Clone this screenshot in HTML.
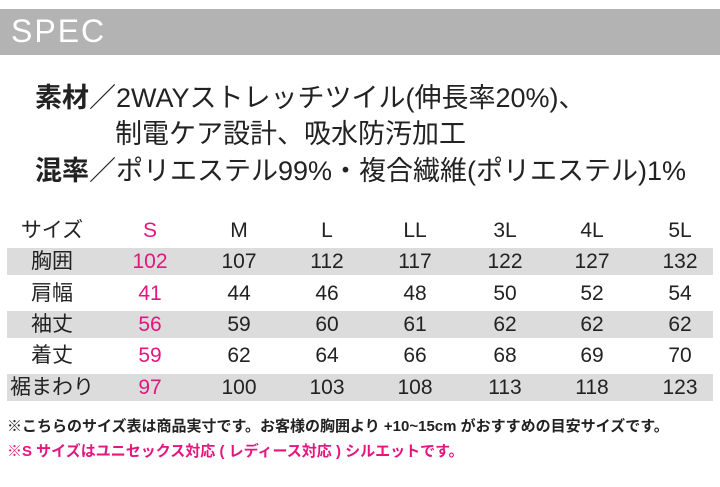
<!DOCTYPE html><html><head><meta charset="utf-8"><style>
body{margin:0;width:720px;height:487px;background:#fff;position:relative;font-family:"Liberation Sans","Noto Sans CJK JP",sans-serif;color:#222;overflow:hidden}
.bar{position:absolute;left:0;top:9px;width:720px;height:46px;background:#b3b3b3}
.bar span{position:absolute;left:11px;top:4px;color:#fff;font-size:32px;letter-spacing:2px}
.l{position:absolute;font-size:27px;white-space:nowrap;line-height:1}
.l b{font-weight:bold}
.row{position:absolute;left:7px;width:706px;height:27px}
.g{background:#dcdcdc}
.c{position:absolute;width:90px;text-align:center;font-size:21px;line-height:27px;transform:translateX(-50%)}
.p{color:#e4157f}
.n{position:absolute;left:7px;font-size:15px;font-weight:bold;white-space:nowrap}
</style></head><body>
<div class="bar"><span>SPEC</span></div>
<div class="l" style="left:35px;top:85px"><b>素材</b>／2WAYストレッチツイル(伸長率20%)、</div>
<div class="l" style="left:115px;top:121px">制電ケア設計、吸水防汚加工</div>
<div class="l" style="left:35px;top:158px"><b>混率</b>／ポリエステル99%・複合繊維(ポリエステル)1%</div>
<div id="t"></div>
<div class="n" style="top:415px">※こちらのサイズ表は商品実寸です。お客様の胸囲より +10~15cm がおすすめの目安サイズです。</div>
<div class="n p" style="top:440px">※S サイズはユニセックス対応 ( レディース対応 ) シルエットです。</div>
<script>
var rows=[["サイズ","S","M","L","LL","3L","4L","5L"],["胸囲","102","107","112","117","122","127","132"],["肩幅","41","44","46","48","50","52","54"],["袖丈","56","59","60","61","62","62","62"],["着丈","59","62","64","66","68","69","70"],["裾まわり","97","100","103","108","113","118","123"]];
var xs=[52,150,239,327,415,505,592,680],h="";
rows.forEach(function(r,i){var top=217+i*31.3;h+='<div class="row'+(i%2?' g':'')+'" style="top:'+top+'px">';r.forEach(function(v,j){h+='<div class="c'+(j==1?' p':'')+'" style="left:'+(xs[j]-7)+'px">'+v+'</div>'});h+='</div>'});
document.getElementById('t').innerHTML=h;
</script>
</body></html>
